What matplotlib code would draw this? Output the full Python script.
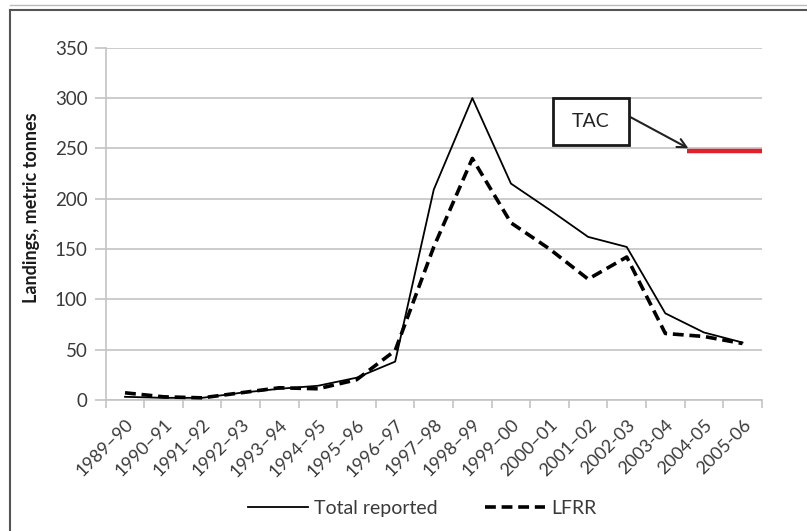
import numpy as np
import matplotlib
matplotlib.use('Agg')
import matplotlib.pyplot as plt
from matplotlib.patches import Rectangle
from matplotlib.lines import Line2D

plt.rcParams['font.family'] = ['Lato', 'DejaVu Sans']

seasons = ['1989–90', '1990–91', '1991–92', '1992–93', '1993–94', '1994–95',
           '1995–96', '1996–97', '1997–98', '1998–99', '1999–00', '2000–01',
           '2001–02', '2002-03', '2003-04', '2004-05', '2005-06']
total_reported = [3, 2, 2, 7, 11, 14, 22, 38, 209, 300, 215, 189, 162, 152, 86, 67, 57]
lfrr = [7, 3, 2, 7, 12, 11, 20, 49, 152, 240, 176, 150, 120, 142, 66, 63, 56]
tac_value = 247
tac_start, tac_end = 14.55, 16.5

x = np.arange(len(seasons))

fig = plt.figure(figsize=(8.07, 5.31), dpi=100)
ax = fig.add_axes([0.131, 0.247, 0.813, 0.663])

grid_col = '#c4c4c4'
text_col = '#3a3a3a'
ax.plot(x, total_reported, color='black', lw=1.3, label='Total reported', zorder=3)
ax.plot(x, lfrr, color='black', lw=2.6, linestyle=(0, (3, 1.6)), label='LFRR', zorder=3)
ax.plot([tac_start, tac_end], [tac_value, tac_value], color='#e0202a', lw=3.2,
        solid_capstyle='butt', zorder=3)

ax.set_xlim(-0.5, len(seasons) - 0.5)
ax.set_ylim(0, 350)
ax.set_yticks(np.arange(0, 351, 50))
ax.yaxis.grid(True, color=grid_col, lw=1.2)
ax.set_axisbelow(True)

ax.set_xticks(x)
ax.set_xticklabels(seasons, rotation=45, ha='right', rotation_mode='anchor',
                   fontsize=13, color=text_col)
ax.set_xticks(np.arange(-0.5, len(seasons)), minor=True)
ax.tick_params(axis='x', which='major', length=0, pad=12)
ax.tick_params(axis='x', which='minor', length=6, color=grid_col, width=1.2)
ax.tick_params(axis='y', length=8, color=grid_col, width=1.2, labelsize=13.5,
               labelcolor=text_col, pad=5)

for side in ['top', 'right']:
    ax.spines[side].set_visible(False)
for side in ['left', 'bottom']:
    ax.spines[side].set_color(grid_col)
    ax.spines[side].set_linewidth(1.2)

ax.set_ylabel('Landings, metric tonnes', fontsize=13, fontweight='bold',
              color='#1a1a1a')
ax.yaxis.set_label_coords(-0.1, 0.545)

# TAC callout
ax.add_patch(Rectangle((11.08, 253.6), 1.97, 46.7, fill=False, edgecolor='#1a1a1a',
                       lw=2, zorder=4, clip_on=False))
ax.text(12.06, 277, 'TAC', ha='center', va='center', fontsize=14, color='#222222')
ax.annotate('', xy=(14.6, 250), xytext=(13.1, 281),
            arrowprops=dict(arrowstyle='->', color='#222222', lw=1.5,
                            mutation_scale=16, shrinkA=0, shrinkB=0))

handles = [Line2D([], [], color='black', lw=1.3),
           Line2D([], [], color='black', lw=2.6, linestyle=(0, (3, 1.6)))]
fig.legend(handles, ['Total reported', 'LFRR'], loc='center', ncol=2,
           bbox_to_anchor=(0.523, 0.043), frameon=False, fontsize=14,
           handlelength=3.1, columnspacing=2.45, handletextpad=0.3,
           labelcolor=text_col)

# outer frame of the original figure
fig.add_artist(Line2D([0.0125, 0.0125], [0.0, 0.981], transform=fig.transFigure,
                      color='#555555', lw=1.5))
fig.add_artist(Line2D([0.0125, 1.0], [0.981, 0.981], transform=fig.transFigure,
                      color='#555555', lw=1.5))
fig.add_artist(Line2D([0.0125, 1.0], [0.99, 0.99], transform=fig.transFigure,
                      color='#bbbbbb', lw=1.0))

fig.savefig('out.png', dpi=100)
